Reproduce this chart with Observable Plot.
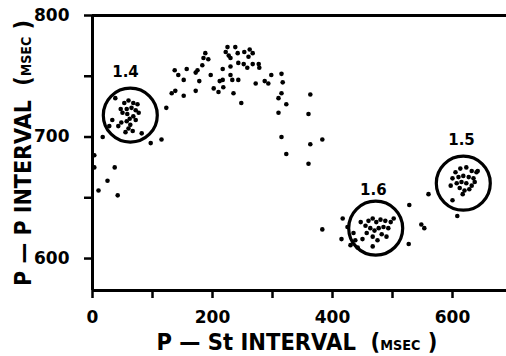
<!DOCTYPE html>
<html>
<head>
<meta charset="utf-8">
<script src="https://cdn.jsdelivr.net/npm/d3@7"></script>
<script src="https://cdn.jsdelivr.net/npm/@observablehq/plot@0.6"></script>
<style>
  html, body { margin: 0; padding: 0; background: #fff; }
  #chart { width: 506px; height: 356px; }
</style>
</head>
<body>
<div id="chart"></div>
<script>
// P–St interval (msec) for each beat
const pstInterval = [
  3,3,37,25,10,42,17,97,115,123,82,
  38,33,43,48,28,53,60,68,75,57,65,72,50,58,62,68,77,57,63,60,67,55,72,47,
  132,138,152,172,137,143,157,172,152,178,175,183,188,193,185,197,202,210,212,217,217,218,
  225,222,227,230,238,242,243,230,230,233,243,253,262,267,260,252,258,267,277,278,235,248,
  272,287,293,298,315,317,315,310,323,310,363,360,315,323,363,383,360,
  383,415,417,528,527,548,553,560,608,
  447,455,460,467,473,480,488,497,463,470,477,485,493,457,467,475,482,490,438,430,442,467,450,502,425,435,
  600,642,605,613,623,632,640,600,610,618,627,635,607,615,623,632,612,620,628,597,617,637
];
// P–P interval (msec) for each beat
const ppInterval = [
  685,675,675,664,656,652,700,695,698,724,703,
  732,714,709,712,709,728,730,728,727,723,724,722,720,719,715,717,720,713,710,707,705,704,714,723,
  736,738,734,738,755,751,756,753,747,746,755,759,769,764,765,751,740,737,746,747,756,741,
  774,770,767,765,774,769,761,758,751,747,747,770,772,769,766,760,757,760,760,757,736,728,
  744,746,744,751,752,745,736,732,727,720,735,719,700,686,694,698,678,
  624,616,633,644,612,628,625,653,635,
  630,627,631,633,630,632,631,630,625,623,625,626,625,621,618,615,620,618,615,611,609,610,616,633,626,621,
  648,672,671,674,675,672,671,666,667,668,667,666,662,663,662,660,658,656,657,660,653,663
];
// encircled groups
const groupX = [63, 472, 618];
const groupY = [718, 625, 662];
const groupLabel = ["1.4", "1.6", "1.5"];
const groupLabelX = [55, 468, 615];
const groupLabelY = [753, 656, 697];

// axes
const xDomain = [0, 690];
const yDomain = [573.7, 800];
const xTicks = [0, 100, 200, 300, 400, 500, 600];
const xTickLabels = [0, 200, 400, 600];
const yTicks = [600, 650, 700, 750, 800];
const yTickLabels = [600, 700, 800];

const points = pstInterval.map((x, i) => ({x, y: ppInterval[i]}));
const groups = groupX.map((x, i) => ({x, y: groupY[i], label: groupLabel[i], lx: groupLabelX[i], ly: groupLabelY[i]}));

const font = "DejaVu Sans";
const plot = Plot.plot({
  width: 506,
  height: 356,
  marginLeft: 92,
  marginRight: 0,
  marginTop: 15,
  marginBottom: 66,
  style: {fontFamily: font, background: "white", color: "black", overflow: "visible"},
  x: {domain: xDomain},
  y: {domain: yDomain},
  marks: [
    Plot.ruleX([xDomain[0]], {stroke: "black", strokeWidth: 3}),
    Plot.ruleY([yDomain[1], yDomain[0]], {stroke: "black", strokeWidth: 3}),
    Plot.axisX({
      ticks: xTicks, tickSize: 8, tickPadding: 12, strokeWidth: 2.5, label: null,
      tickFormat: d => xTickLabels.includes(d) ? String(d) : "",
      fontSize: 17, fontWeight: "bold"
    }),
    Plot.axisY({
      ticks: yTicks, tickSize: 8, tickPadding: 15, strokeWidth: 2.5, label: null,
      tickFormat: d => yTickLabels.includes(d) ? String(d) : "",
      fontSize: 17, fontWeight: "bold"
    }),
    Plot.dot(points, {x: "x", y: "y", r: 2.3, fill: "black", stroke: "none"}),
    Plot.dot(groups, {x: "x", y: "y", r: 27, stroke: "black", strokeWidth: 3.2, fill: "none"}),
    Plot.text(groups, {x: "lx", y: "ly", text: "label", fontSize: 15, fontWeight: "bold", fill: "black"})
  ]
});
document.getElementById("chart").appendChild(plot);

// axis titles with small "MSEC"
const svg = d3.select(plot);
function addTitle(parts, cx, cy, rotate, targetLen) {
  const g = svg.append("g");
  const t = g.append("text")
    .attr("font-family", font)
    .attr("font-weight", "bold")
    .attr("text-anchor", "middle")
    .attr("fill", "black");
  parts.forEach(([s, size]) => t.append("tspan").attr("font-size", size).text(s));
  const w = t.node().getComputedTextLength();
  const sx = targetLen / w;
  g.attr("transform", `translate(${cx},${cy}) rotate(${rotate}) scale(${sx},1)`);
}
addTitle([["P — St INTERVAL  (", 23], ["MSEC", 14], [" )", 23]], 297, 350, 0, 281);
addTitle([["P — P INTERVAL  (", 23], ["MSEC", 14], [" )", 23]], 31, 153, -90, 266);
</script>
</body>
</html>
